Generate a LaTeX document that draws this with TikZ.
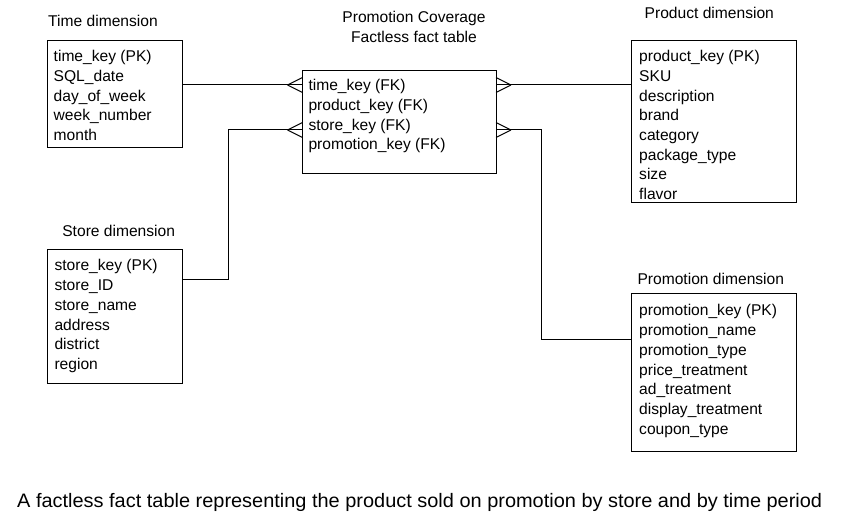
\documentclass[tikz,border=0pt]{standalone}
\usepackage{fontspec}
\usepackage{graphicx}
\setmainfont{Liberation Sans}
\usetikzlibrary{calc}
\newcommand\fieldlist[1]{\begin{tabular}[t]{@{}l@{}}#1\end{tabular}}
\tikzset{
  box/.style={draw, line width=1pt, rectangle, inner sep=0pt, outer sep=0pt, anchor=north west},
  rows/.style={anchor=base west, inner sep=0pt, font=\fontsize{15.6}{19.7}\selectfont},
  ttl/.style={anchor=base, inner sep=0pt, font=\fontsize{15.6}{19.7}\selectfont},
  link/.style={line width=1pt},
}
\begin{document}
\begin{tikzpicture}[x=1pt,y=-1pt]
\useasboundingbox (0,0) rectangle (844,521);
\fill[white] (0,0) rectangle (844,521);

% boxes
\node[box, minimum width=135pt, minimum height=107pt] (time) at (47.5,40.5) {};
\node[box, minimum width=135pt, minimum height=134.5pt] (store) at (47.5,249.5) {};
\node[box, minimum width=193.5pt, minimum height=103.5pt] (fact) at (302.5,70.5) {};
\node[box, minimum width=165pt, minimum height=162pt] (prod) at (631,40.5) {};
\node[box, minimum width=165pt, minimum height=157pt] (promo) at (631,294) {};

% titles
\node[ttl] (timettl) at (103,26.5) {Time dimension};
\node[ttl] (storettl) at (118.7,236.7) {Store dimension};
\node[ttl] (prodttl) at (709.3,18.3) {Product dimension};
\node[ttl] (promottl) at (710.8,285) {Promotion dimension};
\node[ttl] (factttl1) at (414,22.7) {Promotion Coverage};
\node[ttl] (factttl2) at (414,42.7) {Factless fact table};

% field lists
\node[rows] (timerows) at (53.5,61.7) {\fieldlist{time\_key (PK)\\SQL\_date\\day\_of\_week\\week\_number\\month}};
\node[rows] (storerows) at (54.3,271) {\fieldlist{store\_key (PK)\\store\_ID\\store\_name\\address\\district\\region}};
\node[rows] (factrows) at (308.3,90.7) {\fieldlist{time\_key (FK)\\product\_key (FK)\\store\_key (FK)\\promotion\_key (FK)}};
\node[rows] (prodrows) at (639,61.7) {\fieldlist{product\_key (PK)\\SKU\\description\\brand\\category\\package\_type\\size\\flavor}};
\node[rows] (promorows) at (639,316) {\fieldlist{promotion\_key (PK)\\promotion\_name\\promotion\_type\\price\_treatment\\ad\_treatment\\display\_treatment\\coupon\_type}};

% connection points on the fact table
\coordinate (ftime) at ($(fact.north west)+(0,14.5)$);
\coordinate (fstore) at ($(fact.north west)+(0,59.5)$);
\coordinate (fprod) at ($(fact.north east)+(0,14.5)$);
\coordinate (fpromo) at ($(fact.north east)+(0,59.5)$);
\coordinate (storebend) at (228,130);
\coordinate (promobend) at (541,130);

% connectors
\draw[link] (time.east |- ftime) -- (ftime);
\draw[link] (store.east |- 0,279.5) -| (storebend) -- (fstore);
\draw[link] (fprod) -- (prod.west |- fprod);
\draw[link] (fpromo) -- (promobend) |- (promo.west |- 0,339.5);

% crow's feet
\foreach \p/\d in {ftime/-15, fstore/-15, fprod/15, fpromo/15}{
  \draw[link] ($(\p)+(\d,0)$) -- ($(\p)+(0,-7.5)$)
              ($(\p)+(\d,0)$) -- ($(\p)+(0,7.5)$);
}

% caption
\node[anchor=base west, inner sep=0pt] (caption) at (17,507)
  {\resizebox{805pt}{\height}{\fontsize{19.5}{22}\selectfont A factless fact table representing the product sold on promotion by store and by time period}};
\end{tikzpicture}
\end{document}
